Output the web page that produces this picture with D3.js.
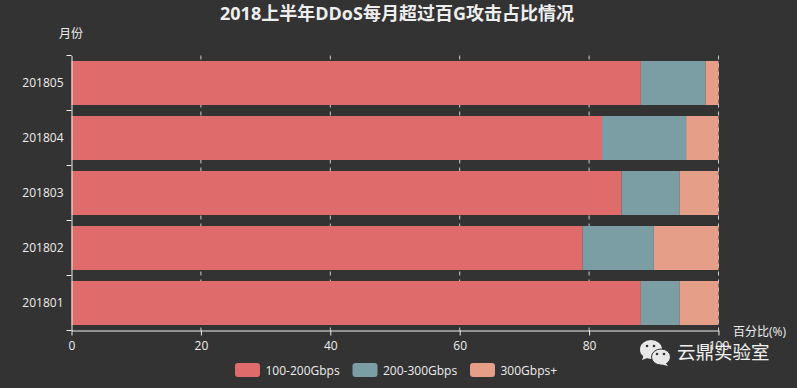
<!DOCTYPE html>
<html>
<head>
<meta charset="utf-8">
<script src="https://cdn.jsdelivr.net/npm/d3@7"></script>
<style>
    html, body { margin: 0; padding: 0; background: #333; }
    svg { display: block; }
    text { font-family: "Open Sans", "Noto Sans CJK SC", sans-serif; }
</style>
</head>
<body>
<svg id="chart" width="797" height="388"></svg>
<script>
const months = ['201805', '201804', '201803', '201802', '201801'];
const seriesNames = ['100-200Gbps', '200-300Gbps', '300Gbps+'];
const low = [88, 82, 85, 79, 88];
const mid = [10, 13, 9, 11, 6];
const high = [2, 5, 6, 10, 6];
const xTicks = [0, 20, 40, 60, 80, 100];
const colors = ['#df6c6a', '#7b9ea5', '#e59e87'];

const svg = d3.select('#chart');
svg.append('rect').attr('width', 797).attr('height', 388).attr('fill', '#333');

const x = d3.scaleLinear().domain([0, 100]).range([71.5, 718.5]);
const y = d3.scaleBand().domain(months).range([55.5, 330.5]).paddingInner(0.2).paddingOuter(0.1);
const band = d3.scaleBand().domain(months).range([55.5, 330.5]);

const rows = months.map((m, i) => ({ month: m, [seriesNames[0]]: low[i], [seriesNames[1]]: mid[i], [seriesNames[2]]: high[i] }));
const stacked = d3.stack().keys(seriesNames)(rows);

// dashed split lines sit under the bars
svg.append('g').selectAll('line')
    .data(xTicks.slice(1))
    .enter().append('line')
    .attr('x1', d => x(d)).attr('x2', d => x(d))
    .attr('y1', 55.5).attr('y2', 330.5)
    .attr('stroke', '#ccc')
    .attr('stroke-dasharray', '4,4');

svg.append('g').selectAll('g')
    .data(stacked)
    .enter().append('g')
    .attr('fill', (d, i) => colors[i])
    .selectAll('rect')
    .data(d => d)
    .enter().append('rect')
    .attr('x', d => x(d[0]))
    .attr('width', d => x(d[1]) - x(d[0]))
    .attr('y', d => y(d.data.month))
    .attr('height', y.bandwidth());

const xAxis = svg.append('g')
    .attr('transform', 'translate(0,330.5)')
    .call(d3.axisBottom(x).tickValues(xTicks).tickSize(5).tickPadding(6).tickSizeOuter(0));
xAxis.selectAll('text').attr('font-size', 12).attr('fill', '#eee');

const yAxis = svg.append('g')
    .attr('transform', 'translate(71.5,0)')
    .call(d3.axisLeft(band).tickSize(0).tickPadding(8));
yAxis.selectAll('text').attr('font-size', 12).attr('fill', '#eee');

// band edge ticks
yAxis.selectAll('line.edge')
    .data(d3.range(months.length + 1))
    .enter().append('line')
    .attr('class', 'edge')
    .attr('x1', -5).attr('x2', 0)
    .attr('y1', d => 55.5 + d * band.step())
    .attr('y2', d => 55.5 + d * band.step())
    .attr('stroke', '#eee');

svg.selectAll('.domain').attr('stroke', '#eee').attr('stroke-width', 1);
svg.selectAll('.tick line').attr('stroke', '#eee');

svg.append('text')
    .attr('x', 397).attr('y', 20)
    .attr('text-anchor', 'middle')
    .attr('font-size', 18).attr('font-weight', 700)
    .attr('fill', '#eee')
    .text('2018上半年DDoS每月超过百G攻击占比情况');

svg.append('text')
    .attr('x', 71).attr('y', 38)
    .attr('text-anchor', 'middle')
    .attr('font-size', 12).attr('fill', '#eee')
    .text('月份');

svg.append('text')
    .attr('x', 733).attr('y', 336)
    .attr('font-size', 12).attr('fill', '#eee')
    .text('百分比(%)');

// legend
const legendX = [235, 352.5, 470];
const legend = svg.append('g').selectAll('g')
    .data(seriesNames)
    .enter().append('g')
    .attr('transform', (d, i) => `translate(${legendX[i]},363)`);
legend.append('rect')
    .attr('width', 25).attr('height', 14).attr('rx', 3)
    .attr('fill', (d, i) => colors[i]);
legend.append('text')
    .attr('x', 30.5).attr('y', 11.5)
    .attr('font-size', 12).attr('fill', '#eee')
    .text(d => d);

// watermark
const mark = svg.append('g').attr('fill', '#e8e8e8');
mark.append('ellipse').attr('cx', 651).attr('cy', 349.5).attr('rx', 11).attr('ry', 9.5);
mark.append('path').attr('d', 'M644,355L642,360L650,357Z');
mark.append('ellipse').attr('cx', 661).attr('cy', 357).attr('rx', 9.5).attr('ry', 8).attr('stroke', '#333').attr('stroke-width', 1);
mark.append('path').attr('d', 'M665,362L668,366L660,364Z');
mark.selectAll('circle')
    .data([[647, 346], [654, 346], [657, 354], [664, 354]])
    .enter().append('circle')
    .attr('cx', d => d[0]).attr('cy', d => d[1]).attr('r', 1.3)
    .attr('fill', '#333');
svg.append('text')
    .attr('x', 677).attr('y', 359)
    .attr('font-size', 18.5).attr('fill', '#f0f0f0')
    .text('云鼎实验室');
</script>
</body>
</html>
